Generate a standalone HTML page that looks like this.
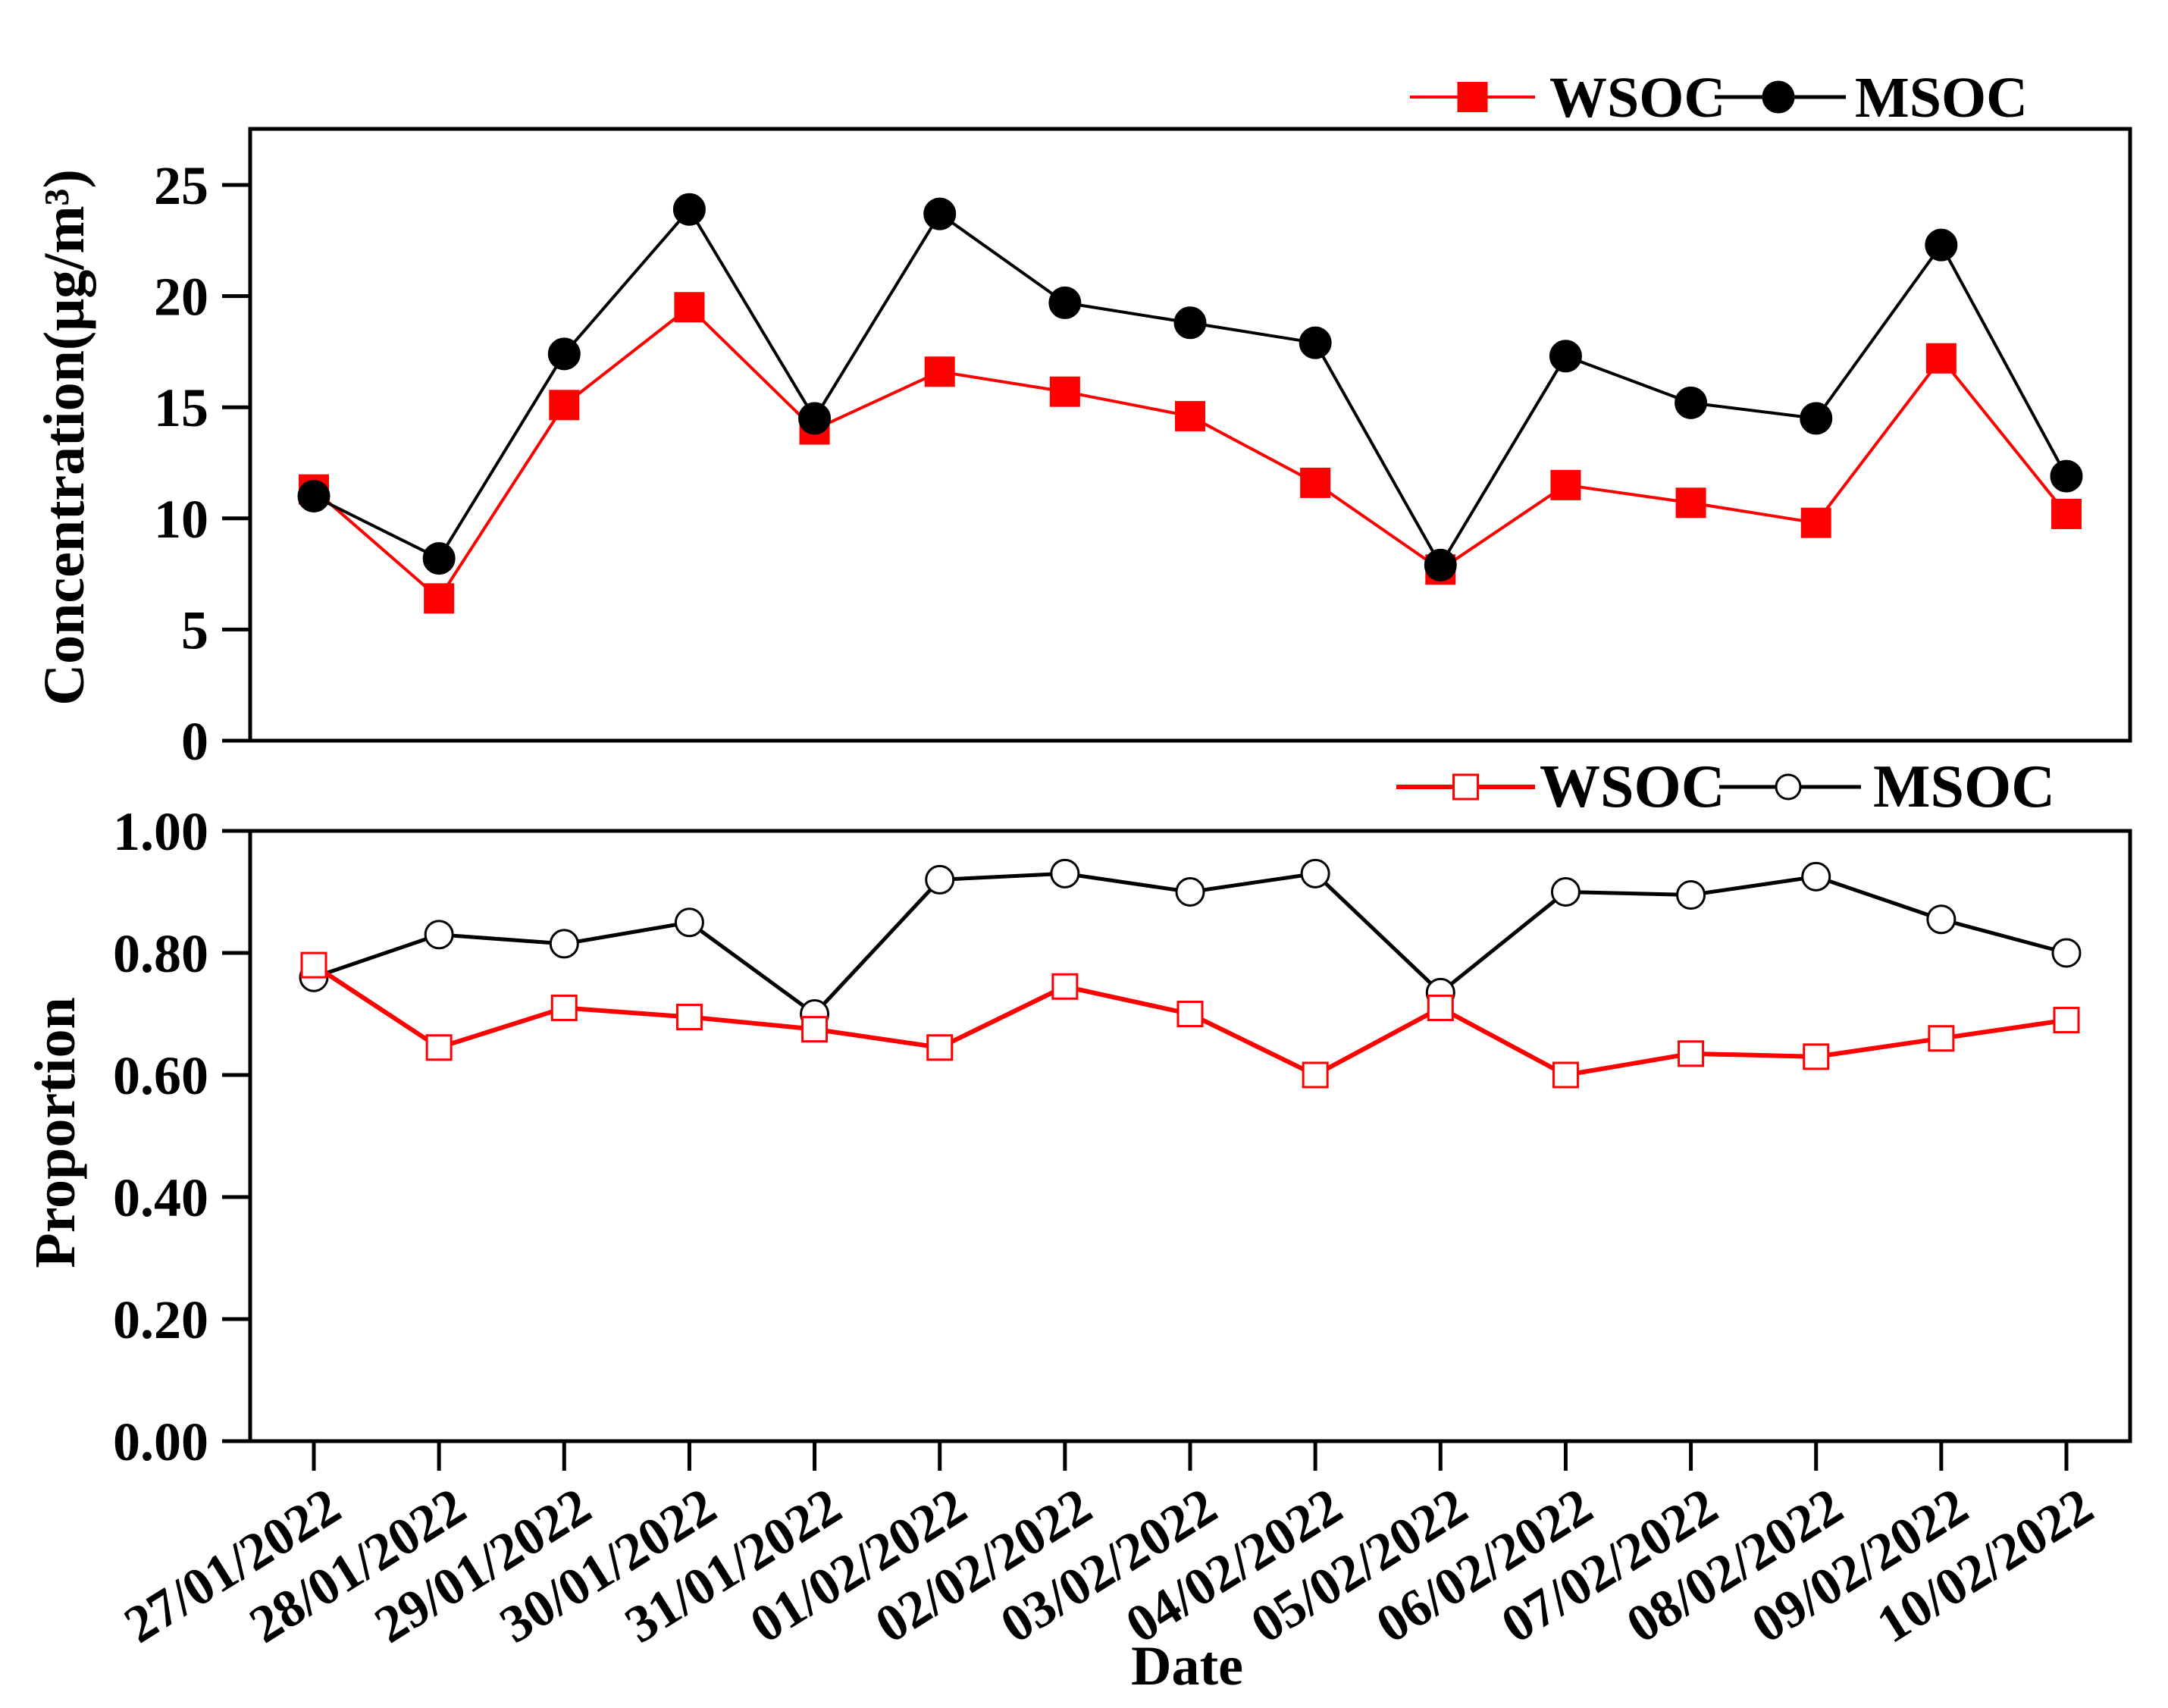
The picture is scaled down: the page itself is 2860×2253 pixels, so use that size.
<!DOCTYPE html>
<html><head><meta charset="utf-8"><style>
html,body{margin:0;padding:0;background:#fff}
svg{display:block}
text{font-family:"Liberation Serif",serif;font-weight:bold;fill:#000}
</style></head><body>
<svg id="chart" width="2860" height="2253" viewBox="0 0 2860 2253" xmlns="http://www.w3.org/2000/svg">
<g id="topPanel"></g>
<g id="botPanel"></g>
<text x="0" y="0" font-size="76" text-anchor="middle" transform="translate(110,577) rotate(-90)">Concentration(μg/m³)</text>
<text x="0" y="0" font-size="76" text-anchor="middle" transform="translate(98,1494) rotate(-90)">Proportion</text>
<text x="1566" y="2222" font-size="74" text-anchor="middle">Date</text>
</svg>
<script>
const dates=["27/01/2022","28/01/2022","29/01/2022","30/01/2022","31/01/2022","01/02/2022","02/02/2022","03/02/2022","04/02/2022","05/02/2022","06/02/2022","07/02/2022","08/02/2022","09/02/2022","10/02/2022"];
const concWSOC=[11.3,6.4,15.1,19.5,14.0,16.6,15.7,14.6,11.6,7.7,11.5,10.7,9.8,17.2,10.2];
const concMSOC=[11.0,8.2,17.4,23.9,14.5,23.7,19.7,18.8,17.9,7.9,17.3,15.2,14.5,22.3,11.9];
const propWSOC=[0.78,0.645,0.71,0.695,0.675,0.645,0.745,0.70,0.60,0.71,0.60,0.635,0.63,0.66,0.69];
const propMSOC=[0.76,0.83,0.815,0.85,0.70,0.92,0.93,0.90,0.93,0.735,0.90,0.895,0.925,0.855,0.80];
const concTicks=[0,5,10,15,20,25];
const propTicks=["0.00","0.20","0.40","0.60","0.80","1.00"];

const NS="http://www.w3.org/2000/svg";
function mk(parent,tag,attrs){const e=document.createElementNS(NS,tag);for(const k in attrs)e.setAttribute(k,attrs[k]);parent.appendChild(e);return e;}
const L=330,R=2810;
const xs=i=>414+i*(2726-414)/(dates.length-1);
const yTop=v=>977-(v/25)*(977-244);
const yBot=v=>1901-v*(1901-1096);
const gTop=document.getElementById('topPanel'), gBot=document.getElementById('botPanel');

function frame(g,t,b,name){
  const r=mk(g,'rect',{x:L,y:t,width:R-L,height:b-t,fill:'none',stroke:'#000','stroke-width':5});
  
  
}
frame(gTop,170,977,'top-plot-frame');
frame(gBot,1096,1901,'bottom-plot-frame');

concTicks.forEach(v=>{
  const y=yTop(v);
  const l=mk(gTop,'line',{x1:L-37,x2:L,y1:y,y2:y,stroke:'#000','stroke-width':5});
  
  
  const t=mk(gTop,'text',{x:L-55,y:y+25,'font-size':72,'text-anchor':'end'});
  t.textContent=v;
  
  
});
propTicks.forEach(s=>{
  const y=yBot(parseFloat(s));
  const l=mk(gBot,'line',{x1:L-37,x2:L,y1:y,y2:y,stroke:'#000','stroke-width':5});
  
  
  const t=mk(gBot,'text',{x:L-55,y:y+25,'font-size':72,'text-anchor':'end'});
  t.textContent=s;
  
  
});
dates.forEach((d,i)=>{
  const x=xs(i);
  const l=mk(gBot,'line',{x1:x,x2:x,y1:1901,y2:1940,stroke:'#000','stroke-width':5});
  
  
  const t=mk(gBot,'text',{x:0,y:0,'font-size':70,'text-anchor':'end',transform:`translate(${x+40},2000) rotate(-32)`});
  t.textContent=d;
  
  
});

function series(g,vals,yf,color,lw,marker,filled,size,name){
  const pts=vals.map((v,i)=>xs(i)+','+yf(v)).join(' ');
  const pl=mk(g,'polyline',{points:pts,fill:'none',stroke:color,'stroke-width':lw,'stroke-linejoin':'round'});
  
  
  vals.forEach((v,i)=>{
    const x=xs(i),y=yf(v);let m;
    if(marker==='sq') m=mk(g,'rect',{x:x-size/2,y:y-size/2,width:size,height:size,fill:filled?color:'#fff',stroke:color,'stroke-width':filled?0:3});
    else m=mk(g,'circle',{cx:x,cy:y,r:size/2,fill:filled?'#000':'#fff',stroke:'#000','stroke-width':3});
    
    
  });
}
series(gTop,concWSOC,yTop,'#f00',4,'sq',true,40,'conc-wsoc');
series(gTop,concMSOC,yTop,'#000',4,'ci',true,40,'conc-msoc');
series(gBot,propMSOC,yBot,'#000',5,'ci',false,36,'prop-msoc');
series(gBot,propWSOC,yBot,'#f00',6,'sq',false,32,'prop-wsoc');

function legend(g,y,x1,x2,tx,lx1,lx2,cx,mx,fs,filled,sz,name){
  const a=mk(g,'line',{x1:x1,x2:x2,y1:y,y2:y,stroke:'#f00','stroke-width':filled?4:6});
  
  
  const sq=mk(g,'rect',{x:(x1+x2)/2-sz/2,y:y-sz/2,width:sz,height:sz,fill:filled?'#f00':'#fff',stroke:'#f00','stroke-width':filled?0:3});
  
  
  const t1=mk(g,'text',{x:tx,y:y+26,'font-size':fs});t1.textContent='WSOC';
  
  
  const b=mk(g,'line',{x1:lx1,x2:lx2,y1:y,y2:y,stroke:'#000','stroke-width':5});
  
  
  const c=mk(g,'circle',{cx:cx,cy:y,r:sz/2,fill:filled?'#000':'#fff',stroke:'#000','stroke-width':3});
  
  
  const t2=mk(g,'text',{x:mx,y:y+26,'font-size':fs});t2.textContent='MSOC';
  
  
}
legend(gTop,128,1860,2025,2044,2262,2435,2346,2447,76,true,40,'legend-top');
legend(gBot,1038,1842,2025,2031,2268,2455,2359,2471,80,false,32,'legend-bottom');
</script>
</body></html>
